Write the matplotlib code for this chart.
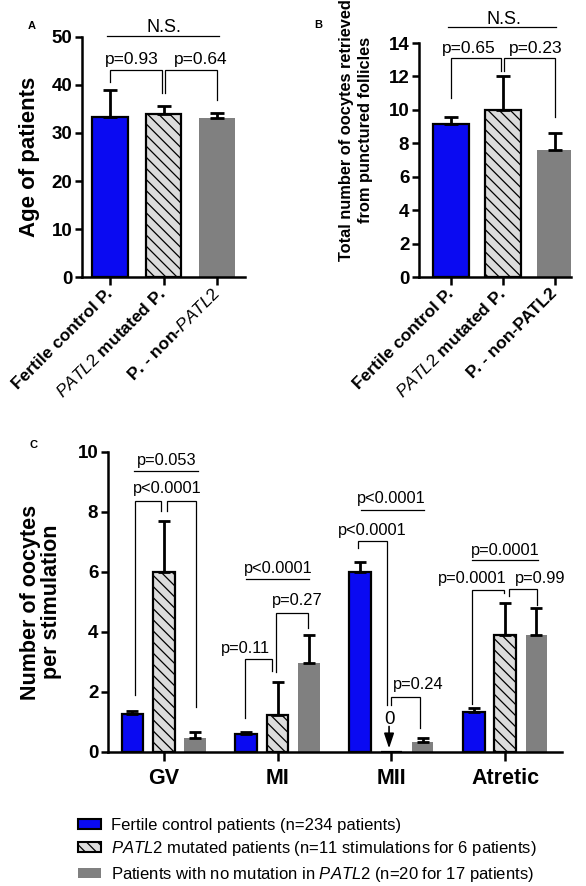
import matplotlib
matplotlib.use('Agg')
import matplotlib.pyplot as plt
import numpy as np
from matplotlib.patches import Patch

plt.rcParams['font.family'] = ['Liberation Sans', 'DejaVu Sans']
plt.rcParams['mathtext.fontset'] = 'custom'
plt.rcParams['mathtext.rm'] = 'Liberation Sans'
plt.rcParams['mathtext.it'] = 'Liberation Sans:italic'
plt.rcParams['mathtext.bf'] = 'Liberation Sans:bold'
plt.rcParams['hatch.linewidth'] = 0.9

# ---------------- data ----------------
labels_a = ['Fertile control P.', r'$\mathit{PATL2}$ mutated P.', r'P. - non-$\mathit{PATL2}$']
labels_b = ['Fertile control P.', r'$\mathit{PATL2}$ mutated P.', 'P. - non-PATL2']
age_mean = [33.3, 34.0, 33.1]
age_sem = [5.7, 1.6, 1.1]
total_mean = [9.15, 10.0, 7.6]
total_sem = [0.42, 2.0, 1.02]

stages = ['GV', 'MI', 'MII', 'Atretic']
fertile_mean = [1.27, 0.60, 6.0, 1.33]
fertile_sem = [0.10, 0.07, 0.33, 0.14]
patl2_mean = [6.0, 1.22, 0.0, 3.9]
patl2_sem = [1.70, 1.11, 0.0, 1.07]
nonpatl2_mean = [0.47, 2.97, 0.33, 3.9]
nonpatl2_sem = [0.20, 0.93, 0.14, 0.90]

legend_labels = ['Fertile control patients (n=234 patients)',
                 r'$\mathit{PATL2}$ mutated patients (n=11 stimulations for 6 patients)',
                 r'Patients with no mutation in $\mathit{PATL2}$ (n=20 for 17 patients)']

pvals_a = ['p=0.93', 'p=0.64']
pvals_b = ['p=0.65', 'p=0.23']
pvals_c = ['p=0.053', 'p<0.0001', 'p<0.0001', 'p=0.11', 'p=0.27',
           'p<0.0001', 'p<0.0001', 'p=0.24', 'p=0.0001', 'p=0.0001', 'p=0.99']

# ---------------- style ----------------
BLUE = '#0a0af2'
GRAY = '#808080'
HFACE = '#dcdcdc'
HATCH = '\\\\\\'
W, H = 586, 886
fig = plt.figure(figsize=(W / 100, H / 100), dpi=100)


def ax_px(l, r, t, b):
    return fig.add_axes([l / W, 1 - b / H, (r - l) / W, (b - t) / H])


def style(ax, lw=1.8):
    for s in ['top', 'right']:
        ax.spines[s].set_visible(False)
    for s in ['left', 'bottom']:
        ax.spines[s].set_linewidth(lw)
    ax.tick_params(width=lw, length=5, direction='out', pad=2)


def bars(ax, x, means, sems, width, capsize, kind):
    if kind == 0:
        kw = dict(facecolor=BLUE, edgecolor='k', linewidth=1.6)
    elif kind == 1:
        kw = dict(facecolor=HFACE, edgecolor='k', linewidth=1.6, hatch=HATCH)
    else:
        kw = dict(facecolor=GRAY, edgecolor='none', linewidth=0)
    x = np.atleast_1d(x)
    means = np.atleast_1d(means)
    sems = np.atleast_1d(sems)
    ax.bar(x, means, width, zorder=2, **kw)
    m = sems > 0
    ax.errorbar(x[m], means[m], yerr=[np.zeros(m.sum()), sems[m]], fmt='none',
                ecolor='k', elinewidth=2.0, capsize=capsize, capthick=2.0, zorder=3)


def bracket(ax, xl, xr, ytop, yl, yr, lw=0.9):
    ax.plot([xl, xl, xr, xr], [yl, ytop, ytop, yr], color='k', lw=lw,
            clip_on=False, zorder=4, solid_joinstyle='miter')


def hline(ax, xl, xr, y, lw=0.9):
    ax.plot([xl, xr], [y, y], color='k', lw=lw, clip_on=False, zorder=4)


TICKFS = 13.5

# ---------------- Panel A ----------------
axA = ax_px(82, 245, 37, 277)
style(axA)
xa = np.arange(3)
for i in range(3):
    bars(axA, xa[i], age_mean[i], age_sem[i], 0.67, 5, i)
axA.set_xlim(-0.52, 2.52)
axA.set_ylim(0, 50)
axA.set_yticks(np.arange(0, 51, 10), [str(v) for v in range(0, 51, 10)],
               fontsize=TICKFS, fontweight='bold')
axA.set_xticks(xa, labels_a, rotation=45, ha='right', va='center',
               rotation_mode='anchor', fontsize=12.5, fontweight='bold')
axA.tick_params(axis='x', length=6, pad=4)
bracket(axA, 0.0, 0.97, 43.1, 40.7, 38.3)
bracket(axA, 1.03, 2.0, 43.1, 38.3, 36.9)
axA.text(0.40, 44.3, pvals_a[0], ha='center', va='baseline', fontsize=12.5)
axA.text(1.70, 44.3, pvals_a[1], ha='center', va='baseline', fontsize=12.5)
hline(axA, -0.06, 2.04, 50.3)
axA.text(1.01, 51.0, 'N.S.', ha='center', va='baseline', fontsize=13, clip_on=False)
fig.text(30 / W, 1 - 157 / H, 'Age of patients', rotation=90, ha='center', va='center',
         fontsize=16, fontweight='bold')
fig.text(32 / W, 1 - 26 / H, 'A', ha='center', va='center', fontsize=8, fontweight='bold')

# ---------------- Panel B ----------------
axB = ax_px(419, 571, 43, 277)
style(axB)
for i in range(3):
    bars(axB, xa[i], total_mean[i], total_sem[i], 0.69, 5, i)
axB.set_xlim(-0.615, 2.31)
axB.set_ylim(0, 14)
axB.set_yticks(np.arange(0, 15, 2), [str(v) for v in range(0, 15, 2)],
               fontsize=TICKFS, fontweight='bold')
axB.set_xticks(xa, labels_b, rotation=45, ha='right', va='center',
               rotation_mode='anchor', fontsize=12.5, fontweight='bold')
axB.tick_params(axis='x', length=6, pad=4)
bracket(axB, 0.0, 0.97, 13.09, 10.7, 12.35)
bracket(axB, 1.03, 2.0, 13.09, 12.35, 9.6)
axB.text(0.35, 13.39, pvals_b[0], ha='center', va='baseline', fontsize=12.5, clip_on=False)
axB.text(1.63, 13.39, pvals_b[1], ha='center', va='baseline', fontsize=12.5, clip_on=False)
hline(axB, -0.06, 2.02, 14.98)
axB.text(1.02, 15.14, 'N.S.', ha='center', va='baseline', fontsize=13, clip_on=False)
fig.text(356 / W, 1 - 130 / H, 'Total number of oocytes retrieved\nfrom punctured follicles',
         rotation=90, ha='center', va='center', fontsize=11.8, fontweight='bold',
         linespacing=1.3, multialignment='center')
fig.text(318 / W, 1 - 25 / H, 'B', ha='center', va='center', fontsize=8, fontweight='bold')

# ---------------- Panel C ----------------
axC = ax_px(108, 562, 452, 752)
style(axC)
xc = np.arange(4)
off = 0.275
wc = 0.19
bars(axC, xc - off, fertile_mean, fertile_sem, wc, 4.2, 0)
bars(axC, xc, patl2_mean, patl2_sem, wc, 4.2, 1)
bars(axC, xc + off, nonpatl2_mean, nonpatl2_sem, wc, 4.2, 2)
axC.set_xlim(-0.49, 3.5)
axC.set_ylim(0, 10)
axC.set_yticks(np.arange(0, 11, 2), [str(v) for v in range(0, 11, 2)],
               fontsize=TICKFS, fontweight='bold')
axC.set_xticks(xc, stages, fontsize=15.5, fontweight='bold')
axC.tick_params(axis='x', length=6.5, pad=5)

fs = 11.8
# GV
hline(axC, -0.26, 0.30, 9.37)
axC.text(0.025, 9.57, pvals_c[0], ha='center', va='baseline', fontsize=fs)
bracket(axC, -0.25, -0.02, 8.37, 1.9, 8.03)
bracket(axC, 0.03, 0.28, 8.37, 8.03, 1.5)
axC.text(0.03, 8.62, pvals_c[1], ha='center', va='baseline', fontsize=fs)
# MI
hline(axC, 1 - 0.28, 1 + 0.28, 5.77)
axC.text(1.01, 5.98, pvals_c[2], ha='center', va='baseline', fontsize=fs)
bracket(axC, 1 - 0.29, 1 - 0.05, 3.1, 1.13, 2.7)
axC.text(1 - 0.28, 3.3, pvals_c[3], ha='center', va='baseline', fontsize=fs)
bracket(axC, 1 - 0.01, 1 + 0.27, 4.63, 2.67, 4.13)
axC.text(1 + 0.17, 4.9, pvals_c[4], ha='center', va='baseline', fontsize=fs)
# MII
hline(axC, 2 - 0.27, 2 + 0.29, 8.07)
axC.text(2.0, 8.29, pvals_c[5], ha='center', va='baseline', fontsize=fs)
bracket(axC, 2 - 0.29, 2 - 0.035, 7.03, 6.8, 1.57)
axC.text(2 - 0.17, 7.23, pvals_c[6], ha='center', va='baseline', fontsize=fs)
bracket(axC, 2.0, 2 + 0.25, 1.83, 1.57, 0.8)
axC.text(2 + 0.24, 2.1, pvals_c[7], ha='center', va='baseline', fontsize=fs)
axC.text(1.98, 1.07, '0', ha='center', va='center', fontsize=13.5)
axC.annotate('', xy=(1.98, 0.12), xytext=(1.98, 0.85),
             arrowprops=dict(arrowstyle='-|>,head_length=0.9,head_width=0.3',
                             color='k', lw=1.2, shrinkA=0, shrinkB=0), zorder=5)
# Atretic
hline(axC, 3 - 0.29, 3 + 0.29, 6.4)
axC.text(3.0, 6.57, pvals_c[8], ha='center', va='baseline', fontsize=fs)
bracket(axC, 3 - 0.29, 3 - 0.01, 5.4, 1.6, 5.3)
axC.text(3 - 0.29, 5.63, pvals_c[9], ha='center', va='baseline', fontsize=fs)
bracket(axC, 3 + 0.03, 3 + 0.28, 5.43, 5.2, 4.9)
axC.text(3 + 0.31, 5.63, pvals_c[10], ha='center', va='baseline', fontsize=fs)

fig.text(41 / W, 1 - 602 / H, 'Number of oocytes\nper stimulation', rotation=90,
         ha='center', va='center', fontsize=15.5, fontweight='bold', linespacing=1.05,
         multialignment='center')
fig.text(34 / W, 1 - 445 / H, 'C', ha='center', va='center', fontsize=8, fontweight='bold')

# ---------------- Legend ----------------
handles = [Patch(facecolor=BLUE, edgecolor='k', linewidth=1.5),
           Patch(facecolor=HFACE, edgecolor='k', linewidth=1.5, hatch=HATCH),
           Patch(facecolor=GRAY, edgecolor='none')]
fig.legend(handles, legend_labels, loc='upper left', bbox_to_anchor=(78 / W, 1 - 818 / H),
           frameon=False, fontsize=12, handlelength=1.4, handleheight=0.55,
           handletextpad=0.6, labelspacing=0.38, borderpad=0, borderaxespad=0)

fig.savefig('out.png', dpi=100)
